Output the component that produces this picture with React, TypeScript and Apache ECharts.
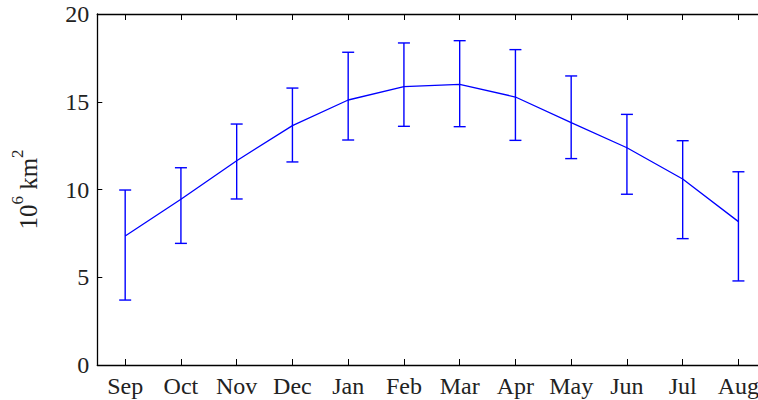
import React, { useEffect, useRef } from "react";
import * as echarts from "echarts";

const months = ["Sep", "Oct", "Nov", "Dec", "Jan", "Feb", "Mar", "Apr", "May", "Jun", "Jul", "Aug"];
const meanValues = [7.35, 9.44, 11.64, 13.64, 15.1, 15.86, 15.99, 15.27, 13.81, 12.38, 10.6, 8.17];
const upperValues = [9.97, 11.24, 13.73, 15.78, 17.82, 18.35, 18.48, 17.97, 16.47, 14.28, 12.78, 11.01];
const lowerValues = [3.7, 6.93, 9.46, 11.57, 12.82, 13.6, 13.58, 12.8, 11.76, 9.73, 7.2, 4.79];
const yTicks = [0, 5, 10, 15, 20];

const FONT = "'Liberation Serif', 'DejaVu Serif', serif";
const BLUE = "#0000ff";

export default function App() {
  const ref = useRef<HTMLDivElement>(null);
  useEffect(() => {
    if (!ref.current) return;
    const chart = echarts.init(ref.current, undefined, { renderer: "svg" });
    const errData = months.map((_, i) => [i, lowerValues[i], upperValues[i]]);
    chart.setOption({
      animation: false,
      backgroundColor: "#ffffff",
      grid: { left: 97.3, width: 669, top: 14, height: 351, containLabel: false },
      xAxis: [
        {
          type: "category",
          data: months,
          boundaryGap: true,
          position: "bottom",
          axisLine: { show: true, lineStyle: { color: "#000", width: 1.3 } },
          axisTick: { show: true, inside: true, length: 6, alignWithLabel: true, lineStyle: { color: "#000", width: 1 } },
          axisLabel: { color: "#222", fontFamily: FONT, fontSize: 24, margin: 9, interval: 0 },
          splitLine: { show: false },
        },
        {
          type: "category",
          data: months,
          boundaryGap: true,
          position: "top",
          axisLine: { show: true, lineStyle: { color: "#000", width: 1.3 } },
          axisTick: { show: true, inside: true, length: 6, alignWithLabel: true, interval: 0, lineStyle: { color: "#000", width: 1 } },
          axisLabel: { show: false },
          splitLine: { show: false },
        },
      ],
      yAxis: {
        type: "value",
        min: 0,
        max: 20,
        interval: 5,
        axisLine: { show: true, lineStyle: { color: "#000", width: 1.3 } },
        axisTick: { show: true, inside: true, length: 5, lineStyle: { color: "#000", width: 1 } },
        axisLabel: {
          color: "#222",
          fontFamily: FONT,
          fontSize: 24,
          margin: 8,
          formatter: (v: number) => (yTicks.includes(v) ? String(v) : ""),
        },
        splitLine: { show: false },
        name: "{b|10}{s|6}{b| km}{s|2}",
        nameLocation: "middle",
        nameRotate: 90,
        nameGap: 56,
        nameTextStyle: {
          color: "#222",
          fontFamily: FONT,
          rich: {
            b: { fontSize: 25, fontFamily: FONT, color: "#222", verticalAlign: "bottom", lineHeight: 32 },
            s: { fontSize: 17, fontFamily: FONT, color: "#222", verticalAlign: "top", lineHeight: 32 },
          },
        },
      },
      series: [
        {
          type: "line",
          data: meanValues,
          xAxisIndex: 0,
          showSymbol: false,
          symbol: "none",
          lineStyle: { color: BLUE, width: 1.3 },
          z: 3,
        },
        {
          type: "custom",
          xAxisIndex: 0,
          data: errData,
          z: 4,
          renderItem: (params: any, api: any) => {
            const x = api.value(0);
            const lo = api.coord([x, api.value(1)]);
            const hi = api.coord([x, api.value(2)]);
            const half = 6;
            const style = { stroke: BLUE, lineWidth: 1.4 };
            return {
              type: "group",
              children: [
                { type: "line", shape: { x1: lo[0], y1: lo[1], x2: hi[0], y2: hi[1] }, style },
                { type: "line", shape: { x1: lo[0] - half, y1: lo[1], x2: lo[0] + half, y2: lo[1] }, style },
                { type: "line", shape: { x1: hi[0] - half, y1: hi[1], x2: hi[0] + half, y2: hi[1] }, style },
              ],
            };
          },
        },
      ],
    });
    return () => chart.dispose();
  }, []);
  return (
    <div style={{ position: "absolute", left: 0, top: 0, width: 758, height: 400, overflow: "hidden" }}>
      <div ref={ref} style={{ width: 776, height: 400 }} />
    </div>
  );
}
